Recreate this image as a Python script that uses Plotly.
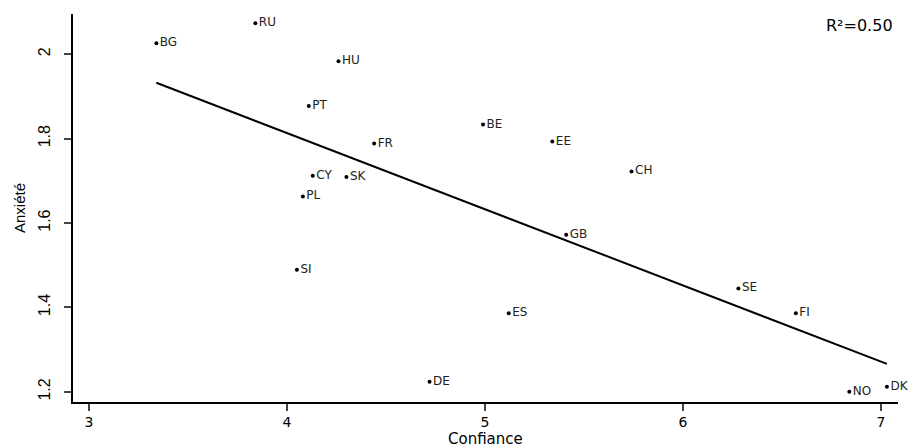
import numpy as np
import plotly.graph_objects as go

countries = ["BG", "RU", "HU", "PT", "FR", "CY", "SK", "PL", "SI", "DE",
             "BE", "EE", "CH", "GB", "ES", "SE", "FI", "NO", "DK"]
confiance = [3.34, 3.84, 4.26, 4.11, 4.44, 4.13, 4.30, 4.08, 4.05, 4.72,
             4.99, 5.34, 5.74, 5.41, 5.12, 6.28, 6.57, 6.84, 7.03]
anxiete = [2.026, 2.073, 1.983, 1.877, 1.788, 1.712, 1.709, 1.663, 1.489, 1.224,
           1.833, 1.793, 1.722, 1.572, 1.386, 1.445, 1.386, 1.200, 1.212]

x_ticks = [3, 4, 5, 6, 7]
y_ticks = [1.2, 1.4, 1.6, 1.8, 2.0]
y_tick_text = ["1.2", "1.4", "1.6", "1.8", "2"]
r2_label = "R²=0.50"
x_title = "Confiance"
y_title = "Anxiété"

x = np.array(confiance)
y = np.array(anxiete)
slope, intercept = np.polyfit(x, y, 1)
fit_x = np.array([x.min(), x.max()])
fit_y = slope * fit_x + intercept

WIDE = "DejaVu Sans, Arial, sans-serif"
NARROW = "Liberation Sans, Arial, sans-serif"

fig = go.Figure()
fig.add_trace(go.Scatter(
    x=fit_x, y=fit_y, mode="lines",
    line=dict(color="black", width=2), hoverinfo="skip", showlegend=False))
fig.add_trace(go.Scatter(
    x=confiance, y=anxiete, mode="markers+text", text=countries,
    textposition="middle right", cliponaxis=False,
    textfont=dict(family=WIDE, size=12, color="#222"),
    marker=dict(color="black", size=4), showlegend=False))

fig.add_annotation(x=1, y=1, xref="paper", yref="paper",
                   xanchor="right", yanchor="middle", yshift=-11, xshift=-3,
                   text=r2_label, showarrow=False,
                   font=dict(family=WIDE, size=16, color="black"))
fig.add_annotation(x=0.5, y=0, xref="paper", yref="paper",
                   xanchor="center", yanchor="middle", yshift=-37,
                   text=x_title, showarrow=False,
                   font=dict(family=WIDE, size=15, color="black"))
fig.add_annotation(x=0, y=0.5, xref="paper", yref="paper", textangle=-90,
                   xanchor="center", yanchor="middle", xshift=-54,
                   text=y_title, showarrow=False,
                   font=dict(family=NARROW, size=15, color="black"))

fig.update_layout(
    width=915, height=448,
    margin=dict(l=73, r=17, t=14, b=46),
    plot_bgcolor="white", paper_bgcolor="white",
    font=dict(family=WIDE, color="black"),
    xaxis=dict(range=[2.919, 7.086], tickvals=x_ticks, ticks="outside",
               ticklen=7, tickwidth=1.5, showline=True, linecolor="black",
               linewidth=1.5, showgrid=False, zeroline=False, automargin=False,
               ticklabelstandoff=-1,
               tickfont=dict(family=WIDE, size=14)),
    yaxis=dict(range=[1.176, 2.095], tickvals=y_ticks, ticktext=y_tick_text,
               ticks="outside", ticklen=7, tickwidth=1.5, tickangle=-90,
               ticklabelstandoff=8,
               showline=True, linecolor="black", linewidth=1.5, automargin=False,
               showgrid=False, zeroline=False,
               tickfont=dict(family=NARROW, size=16)),
)

fig.write_html(
    "out.html",
    config={"displayModeBar": False},
    post_script="document.body.style.margin='0';"
                "document.body.style.overflow='hidden';",
)
